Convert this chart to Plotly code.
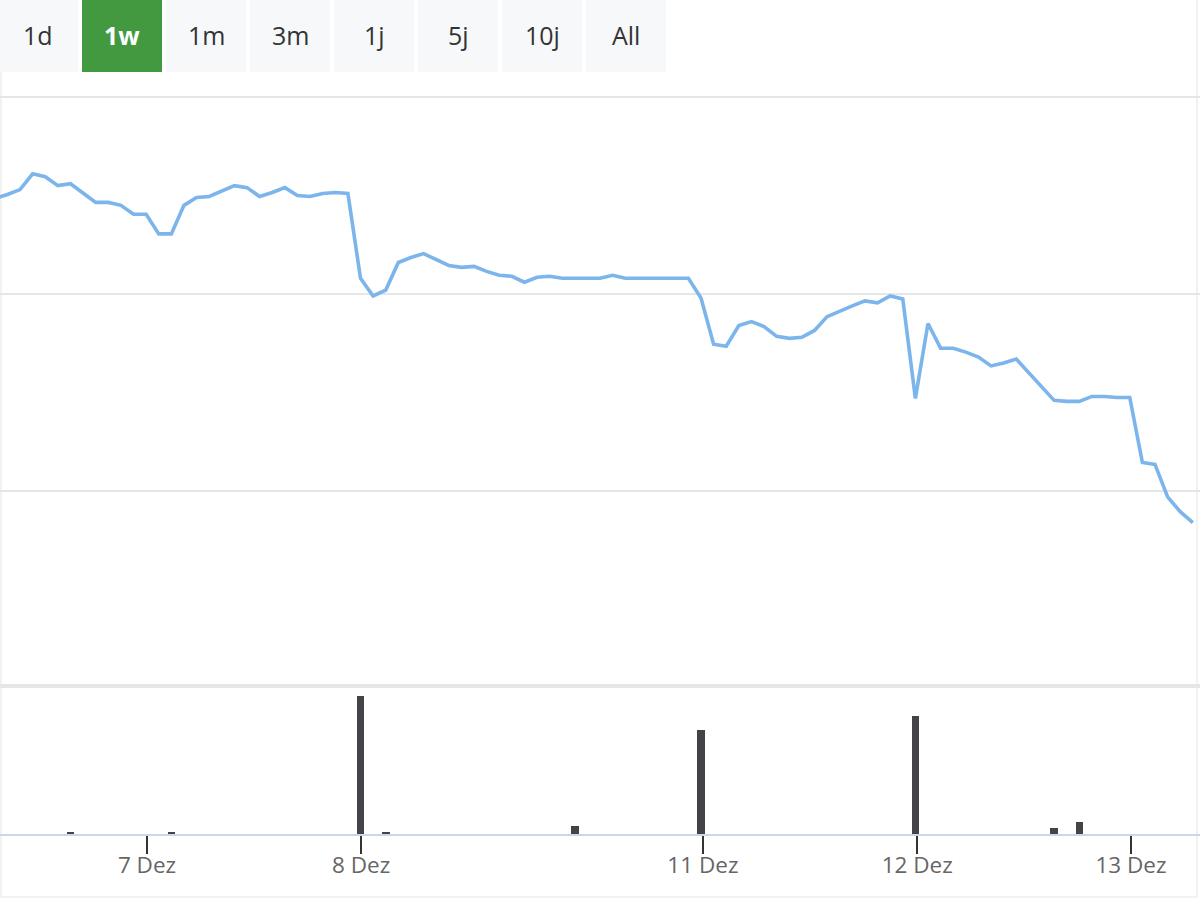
import plotly.graph_objects as go

# ---------------- data ----------------
# sample index (hourly-ish ordinal positions) and price values
point_index = list(range(96))
price = [
    54.97, 55.01, 55.06, 55.22, 55.19, 55.10, 55.12, 55.03, 54.93, 54.93,
    54.90, 54.81, 54.81, 54.61, 54.61, 54.90, 54.98, 54.99, 55.05, 55.10,
    55.08, 54.99, 55.03, 55.08, 55.00, 54.99, 55.02, 55.03, 55.02, 54.16,
    53.98, 54.04, 54.32, 54.37, 54.41, 54.35, 54.29, 54.27, 54.28, 54.23,
    54.19, 54.18, 54.12, 54.17, 54.18, 54.16, 54.16, 54.16, 54.16, 54.19,
    54.16, 54.16, 54.16, 54.16, 54.16, 54.16, 53.96, 53.49, 53.47, 53.68,
    53.72, 53.67, 53.57, 53.55, 53.56, 53.63, 53.77, 53.83, 53.88, 53.93,
    53.91, 53.98, 53.95, 52.94, 53.70, 53.45, 53.45, 53.41, 53.36, 53.27,
    53.30, 53.34, 53.20, 53.07, 52.92, 52.91, 52.91, 52.96, 52.96, 52.95,
    52.95, 52.29, 52.27, 51.94, 51.79, 51.68,
]

volume_index = [6, 14, 29, 31, 46, 56, 73, 84, 86]
volume = [2500, 2000, 138000, 2000, 8000, 104000, 118000, 6000, 12000]

tick_positions = [12.07, 29.05, 56.15, 73.15, 90.1]
tick_labels = ["7 Dez", "8 Dez", "11 Dez", "12 Dez", "13 Dez"]

range_buttons = ["1d", "1w", "1m", "3m", "1j", "5j", "10j", "All"]
selected_button = "1w"

# ---------------- styling ----------------
W, H = 1200, 900
LINE_COLOR = "#7cb5ec"
BAR_COLOR = "#434348"
GRID_COLOR = "#e6e6e6"
FONT = "Open Sans"


def py(pix):
    """pixel (from top) -> paper y"""
    return 1 - pix / H


def px(pix):
    return pix / W


fig = go.Figure()

fig.add_trace(go.Scatter(
    x=point_index, y=price, mode="lines",
    line=dict(color=LINE_COLOR, width=3.6),
    xaxis="x", yaxis="y", hoverinfo="skip",
))

fig.add_trace(go.Bar(
    x=volume_index, y=volume, width=0.6,
    marker=dict(color=BAR_COLOR, line=dict(width=0)),
    xaxis="x", yaxis="y2", hoverinfo="skip",
))

x_range = [0.412, 95.57]

fig.update_layout(
    width=W, height=H,
    margin=dict(l=0, r=0, t=0, b=0),
    paper_bgcolor="white", plot_bgcolor="white",
    showlegend=False,
    font=dict(family=FONT, color="#666666"),
    xaxis=dict(
        domain=[0, 1], range=x_range, anchor="y2",
        tickmode="array", tickvals=tick_positions, ticktext=tick_labels,
        ticks="outside", ticklen=18, tickwidth=2, tickcolor="#333333",
        tickfont=dict(family=FONT, size=22.5, color="#666666"),
        ticklabelstandoff=-8,
        showgrid=False, zeroline=False,
        showline=True, linecolor="#ccd6eb", linewidth=2,
    ),
    yaxis=dict(
        domain=[py(688), py(97)], range=[50, 56], dtick=2,
        showticklabels=False, showgrid=True, gridcolor=GRID_COLOR, gridwidth=1.5,
        zeroline=False, anchor="x",
    ),
    yaxis2=dict(
        domain=[py(834), py(688)], range=[0, 146000],
        showticklabels=False, showgrid=False, zeroline=False, anchor="x",
    ),
    bargap=0,
)

shapes = []
annotations = []

# faint outer border
shapes.append(dict(type="rect", xref="paper", yref="paper",
                   x0=px(1), x1=px(1197), y0=py(897), y1=py(-5),
                   line=dict(color="#f2f2f2", width=2), layer="below"))

# top grid line of price pane
shapes.append(dict(type="line", xref="paper", yref="paper",
                   x0=0, x1=1, y0=py(97), y1=py(97),
                   line=dict(color=GRID_COLOR, width=2)))

# pane separator
shapes.append(dict(type="line", xref="paper", yref="paper",
                   x0=0, x1=1, y0=py(686), y1=py(686),
                   line=dict(color=GRID_COLOR, width=4)))

# range selector buttons
for i, label in enumerate(range_buttons):
    x0 = -2 + 84 * i
    x1 = x0 + 80
    sel = (label == selected_button)
    shapes.append(dict(type="rect", xref="paper", yref="paper",
                       x0=px(x0), x1=px(x1), y0=py(72), y1=py(0),
                       fillcolor="#43993f" if sel else "#f7f8fa",
                       line=dict(width=0), layer="above"))
    annotations.append(dict(
        x=px((x0 + x1) / 2), y=py(35.5), xref="paper", yref="paper",
        text=f"<b>{label}</b>" if sel else label, showarrow=False,
        xanchor="center", yanchor="middle",
        font=dict(family=FONT, size=25, color="#ffffff" if sel else "#333333"),
    ))

fig.update_layout(shapes=shapes, annotations=annotations)

fig.write_html(
    "out.html",
    config={"displayModeBar": False},
    post_script="document.body.style.margin='0';document.body.style.overflow='hidden';",
)
